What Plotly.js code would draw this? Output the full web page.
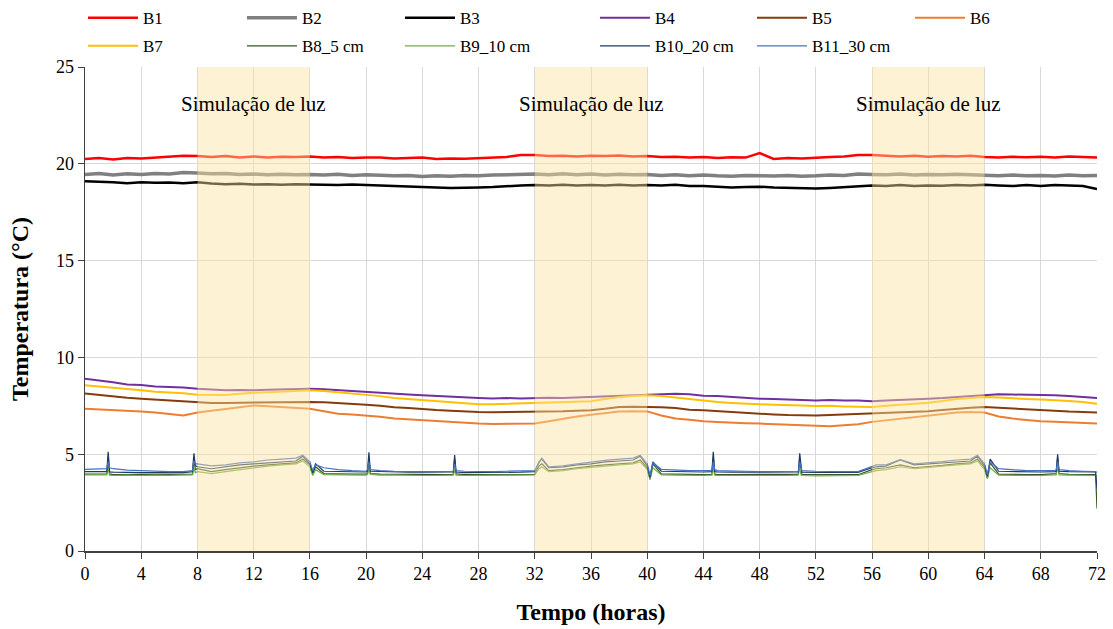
<!DOCTYPE html>
<html>
<head>
<meta charset="utf-8">
<script src="https://cdn.plot.ly/plotly-3.0.1.min.js"></script>
<style>html,body{margin:0;padding:0;background:#fff;}#chart{width:1113px;height:629px;}</style>
</head>
<body>
<div id="chart"></div>
<script>
// Hourly time axis for air/upper series
const tHour = [0,1,2,3,4,5,6,7,8,9,10,11,12,13,14,15,16,17,18,19,20,21,22,23,24,25,26,27,28,29,30,31,32,33,34,35,36,37,38,39,40,41,42,43,44,45,46,47,48,49,50,51,52,53,54,55,56,57,58,59,60,61,62,63,64,65,66,67,68,69,70,71,72];

const B1 = [20.25,20.3,20.22,20.3,20.28,20.32,20.35,20.42,20.4,20.35,20.4,20.32,20.38,20.33,20.37,20.35,20.38,20.33,20.35,20.3,20.32,20.33,20.28,20.3,20.32,20.25,20.28,20.26,20.3,20.32,20.35,20.45,20.45,20.4,20.42,20.38,20.42,20.4,20.43,20.38,20.4,20.35,20.37,20.33,20.35,20.3,20.34,20.32,20.55,20.25,20.3,20.28,20.33,20.35,20.38,20.45,20.45,20.4,20.38,20.42,20.37,20.4,20.38,20.42,20.35,20.33,20.36,20.34,20.37,20.33,20.38,20.35,20.32];
const B2 = [19.45,19.5,19.42,19.48,19.45,19.5,19.47,19.55,19.52,19.48,19.5,19.45,19.47,19.44,19.46,19.43,19.45,19.42,19.46,19.4,19.43,19.4,19.38,19.4,19.35,19.38,19.36,19.4,19.38,19.42,19.45,19.48,19.47,19.44,19.48,19.43,19.47,19.42,19.46,19.44,19.45,19.4,19.43,19.38,19.42,19.38,19.36,19.4,19.38,19.37,19.4,19.36,19.38,19.42,19.4,19.47,19.45,19.43,19.47,19.42,19.45,19.43,19.46,19.42,19.4,19.38,19.42,19.38,19.4,19.37,19.42,19.38,19.4];
const B3 = [19.1,19.08,19.05,19.0,19.05,19.02,19.03,19.0,19.05,18.98,18.95,18.97,18.93,18.95,18.92,18.95,18.92,18.92,18.9,18.93,18.9,18.88,18.85,18.85,18.8,18.78,18.75,18.75,18.78,18.8,18.85,18.88,18.9,18.88,18.92,18.88,18.9,18.88,18.92,18.88,18.9,18.88,18.92,18.85,18.85,18.8,18.78,18.8,18.82,18.78,18.75,18.75,18.72,18.75,18.8,18.85,18.88,18.85,18.9,18.85,18.88,18.87,18.9,18.88,18.92,18.88,18.85,18.9,18.85,18.9,18.88,18.85,18.7];
const B4 = [8.9,8.82,8.72,8.6,8.58,8.5,8.47,8.45,8.38,8.33,8.3,8.32,8.3,8.33,8.35,8.38,8.38,8.35,8.3,8.25,8.21,8.15,8.12,8.08,8.04,8.0,7.95,7.93,7.9,7.88,7.9,7.88,7.9,7.92,7.9,7.93,7.95,7.98,8.0,8.02,8.05,8.1,8.12,8.1,8.02,8.0,7.95,7.92,7.87,7.85,7.82,7.8,7.78,7.8,7.77,7.78,7.73,7.78,7.8,7.82,7.87,7.9,7.95,8.0,8.07,8.1,8.08,8.07,8.07,8.05,8.0,7.95,7.9];
const B5 = [8.13,8.05,8.0,7.92,7.87,7.82,7.75,7.72,7.66,7.64,7.65,7.66,7.66,7.68,7.7,7.7,7.7,7.68,7.65,7.6,7.56,7.5,7.42,7.38,7.32,7.28,7.25,7.2,7.18,7.17,7.18,7.17,7.18,7.2,7.22,7.25,7.27,7.35,7.44,7.45,7.44,7.42,7.38,7.3,7.27,7.22,7.18,7.12,7.09,7.05,7.02,7.0,7.0,7.02,7.05,7.07,7.09,7.12,7.15,7.18,7.22,7.28,7.35,7.4,7.44,7.4,7.35,7.3,7.27,7.25,7.2,7.18,7.15];
const B6 = [7.35,7.32,7.3,7.25,7.21,7.15,7.08,7.0,7.15,7.25,7.32,7.42,7.52,7.48,7.44,7.4,7.35,7.22,7.09,7.05,7.0,6.93,6.85,6.8,6.75,6.72,6.68,6.62,6.58,6.56,6.57,6.55,6.58,6.7,6.84,6.95,7.04,7.12,7.21,7.22,7.21,7.0,6.84,6.78,6.7,6.66,6.62,6.6,6.58,6.55,6.52,6.5,6.46,6.45,6.5,6.55,6.67,6.75,6.82,6.9,6.97,7.05,7.15,7.18,7.15,6.95,6.84,6.77,6.7,6.68,6.64,6.6,6.58];
const B7 = [8.56,8.5,8.42,8.35,8.3,8.22,8.18,8.15,8.07,8.05,8.06,8.12,8.18,8.2,8.24,8.28,8.3,8.27,8.21,8.15,8.07,8.0,7.9,7.85,7.78,7.72,7.67,7.62,7.58,7.58,7.6,7.62,7.66,7.68,7.7,7.72,7.73,7.85,7.95,8.0,8.04,8.0,7.92,7.85,7.78,7.7,7.65,7.6,7.58,7.55,7.55,7.52,7.49,7.5,7.47,7.45,7.44,7.5,7.55,7.6,7.66,7.75,7.85,7.9,7.95,7.93,7.88,7.85,7.83,7.8,7.75,7.7,7.61];

// Soil series time axis (hourly plus readings around spikes / transitions)
const tSoil = [0,1,1.55,1.65,1.75,2,3,4,5,6,
  7,7.65,7.75,7.85,8,9,10,11,12,13,
  14,15,15.5,16,16.2,16.4,17,18,19,20,
  20.1,20.2,20.3,21,22,23,24,25,26,26.2,
  26.3,26.4,27,28,29,30,31,32,32.3,32.5,
  33,34,35,36,37,38,39,39.5,40,40.2,
  40.4,41,42,43,44,44.6,44.7,44.8,45,46,
  47,48,49,50,50.75,50.85,50.95,51,52,53,
  54,55,56,56.3,57,58,59,60,61,62,
  63,63.5,64,64.2,64.4,65,66,67,68,69,
  69.1,69.2,69.3,70,71,71.9,72];

const B8 = [3.97,3.97,3.98,4.85,3.98,3.95,3.95,3.94,3.95,3.95,
  3.95,3.97,4.8,4.2,4.25,4.1,4.2,4.3,4.38,4.45,
  4.5,4.55,4.75,4.45,3.95,4.35,4.0,3.97,3.97,3.97,
  4.0,4.85,4.0,3.97,3.96,3.95,3.95,3.95,3.95,3.96,
  4.75,3.98,3.95,3.95,3.94,3.95,3.95,3.96,4.4,4.5,
  4.15,4.2,4.3,4.38,4.45,4.5,4.55,4.7,4.3,3.7,
  4.5,3.98,3.96,3.95,3.95,3.96,4.85,3.97,3.95,3.95,
  3.95,3.94,3.94,3.95,3.96,4.8,3.98,3.95,3.94,3.94,
  3.94,3.94,4.2,4.25,4.3,4.45,4.3,4.35,4.42,4.5,
  4.55,4.75,4.3,3.75,4.55,3.97,3.95,3.95,3.95,3.97,
  4.0,4.85,4.0,3.96,3.95,3.95,2.2];
const B9 = [3.93,3.92,3.93,4.3,3.92,3.9,3.92,3.9,3.92,3.9,
  3.92,3.93,4.3,4.05,4.1,4.0,4.1,4.2,4.3,4.38,
  4.45,4.5,4.65,4.35,3.9,4.2,3.95,3.93,3.92,3.92,
  3.95,4.3,3.95,3.92,3.92,3.9,3.9,3.9,3.9,3.92,
  4.2,3.92,3.9,3.9,3.9,3.92,3.92,3.93,4.25,4.35,
  4.1,4.15,4.25,4.32,4.4,4.45,4.5,4.6,4.2,3.7,
  4.3,3.93,3.92,3.9,3.9,3.92,4.3,3.92,3.9,3.9,
  3.9,3.9,3.88,3.9,3.92,4.3,3.92,3.9,3.88,3.88,
  3.88,3.9,4.1,4.15,4.2,4.35,4.25,4.3,4.38,4.45,
  4.5,4.65,4.2,3.75,4.3,3.92,3.9,3.9,3.9,3.92,
  3.93,4.3,3.93,3.92,3.9,3.9,3.85];
const B10 = [4.1,4.1,4.1,5.12,4.08,4.07,4.05,4.05,4.05,4.05,
  4.05,4.1,5.05,4.4,4.35,4.25,4.35,4.45,4.5,4.55,
  4.6,4.65,4.9,4.5,4.05,4.5,4.12,4.1,4.08,4.08,
  4.12,5.1,4.12,4.1,4.08,4.07,4.07,4.06,4.06,4.08,
  4.95,4.08,4.05,4.05,4.05,4.06,4.07,4.1,4.6,4.75,
  4.3,4.35,4.45,4.5,4.6,4.65,4.7,4.9,4.4,3.8,
  4.6,4.12,4.1,4.1,4.08,4.1,5.12,4.1,4.08,4.07,
  4.07,4.06,4.06,4.06,4.08,5.05,4.1,4.07,4.06,4.06,
  4.06,4.06,4.3,4.35,4.4,4.7,4.45,4.5,4.55,4.62,
  4.65,4.9,4.4,3.85,4.75,4.12,4.1,4.08,4.08,4.1,
  4.12,5.0,4.12,4.1,4.08,4.08,3.2];
const B11 = [4.22,4.22,4.25,4.6,4.3,4.25,4.18,4.15,4.12,4.1,
  4.1,4.15,4.65,4.5,4.5,4.4,4.45,4.55,4.6,4.7,
  4.75,4.8,4.95,4.6,4.15,4.45,4.3,4.2,4.15,4.12,
  4.2,4.6,4.2,4.15,4.12,4.1,4.1,4.1,4.1,4.12,
  4.5,4.15,4.12,4.1,4.1,4.12,4.12,4.15,4.55,4.8,
  4.35,4.4,4.5,4.6,4.68,4.75,4.8,4.95,4.5,3.9,
  4.55,4.22,4.18,4.15,4.15,4.15,4.6,4.2,4.15,4.12,
  4.12,4.1,4.1,4.1,4.12,4.6,4.2,4.15,4.12,4.1,
  4.1,4.1,4.35,4.45,4.45,4.72,4.5,4.55,4.62,4.7,
  4.75,4.95,4.5,3.95,4.6,4.25,4.2,4.15,4.15,4.15,
  4.2,4.6,4.2,4.15,4.12,4.1,4.05];

const seriesNames = ["B1","B2","B3","B4","B5","B6","B7","B8_5 cm","B9_10 cm","B10_20 cm","B11_30 cm"];
const lightStarts = [8,32,56];
const lightEnds = [16,40,64];
const lightLabel = "Simulação de luz";
const xTicks = [0,4,8,12,16,20,24,28,32,36,40,44,48,52,56,60,64,68,72];
const yTicks = [0,5,10,15,20,25];

const colors = ["#FF0000","#808080","#000000","#7030A0","#843C0C","#ED7D31","#FFC000","#375623","#70AD47","#1F3864","#4472C4"];
const widths = [2.5,3.5,2.5,2,2,2,2,1.2,1.2,1.2,1.2];
// legend row membership and column widths (style only)
const legendOf = ["legend","legend","legend","legend","legend","legend","legend2","legend2","legend2","legend2","legend2"];
const legWidths = [94,93,130,92,93,60,94,93,130,92,93];
const ys = [B1,B2,B3,B4,B5,B6,B7,B8,B9,B10,B11];

const FONT = "Liberation Serif, Times New Roman, serif";

const traces = ys.map((y,i)=>({
  type:"scatter", mode:"lines",
  x: i<7 ? tHour : tSoil, y: y,
  name: seriesNames[i],
  legend: legendOf[i],
  legendwidth: legWidths[i],
  line:{color:colors[i], width:widths[i]}
}));

const shapes = lightStarts.map((s,i)=>({
  type:"rect", xref:"x", yref:"paper", x0:s, x1:lightEnds[i], y0:0, y1:1,
  fillcolor:"rgba(252,226,160,0.45)", line:{width:0}, layer:"above"
}));

const annotations = lightStarts.map((s,i)=>({
  x:(s+lightEnds[i])/2, y:23.1, xref:"x", yref:"y", text:lightLabel,
  showarrow:false, font:{family:FONT, size:21, color:"#000"}
}));

const legFont = {family:FONT, size:17, color:"#000"};
const layout = {
  width:1113, height:629,
  margin:{l:85, r:16, t:67, b:78, autoexpand:false},
  paper_bgcolor:"#fff", plot_bgcolor:"#fff",
  font:{family:FONT, size:18, color:"#000"},
  showlegend:true,
  legend:{orientation:"h", x:-0.002, xanchor:"left", y:1.138, yanchor:"top",
    font:legFont, itemwidth:50, bgcolor:"rgba(0,0,0,0)"},
  legend2:{orientation:"h", x:-0.002, xanchor:"left", y:1.080, yanchor:"top",
    font:legFont, itemwidth:50, bgcolor:"rgba(0,0,0,0)"},
  xaxis:{range:[0,72], tickvals:xTicks, ticktext:xTicks.map(String),
    showgrid:true, gridcolor:"#d9d9d9", gridwidth:1,
    showline:true, linecolor:"#404040", linewidth:1.5,
    ticks:"outside", ticklen:6, tickcolor:"#404040",
    zeroline:false, tickfont:{family:FONT, size:18},
    title:{text:"<b>Tempo (horas)</b>", font:{family:FONT, size:24}, standoff:20}},
  yaxis:{range:[0,25], tickvals:yTicks, ticktext:yTicks.map(String),
    showgrid:true, gridcolor:"#d9d9d9", gridwidth:1,
    showline:true, linecolor:"#404040", linewidth:1.5,
    ticks:"outside", ticklen:6, tickcolor:"#404040",
    zeroline:false, tickfont:{family:FONT, size:18},
    title:{text:"<b>Temperatura (°C)</b>", font:{family:FONT, size:24}, standoff:20}},
  shapes:shapes,
  annotations:annotations
};

Plotly.newPlot("chart", traces, layout, {displayModeBar:false, staticPlot:true});
</script>
</body>
</html>
